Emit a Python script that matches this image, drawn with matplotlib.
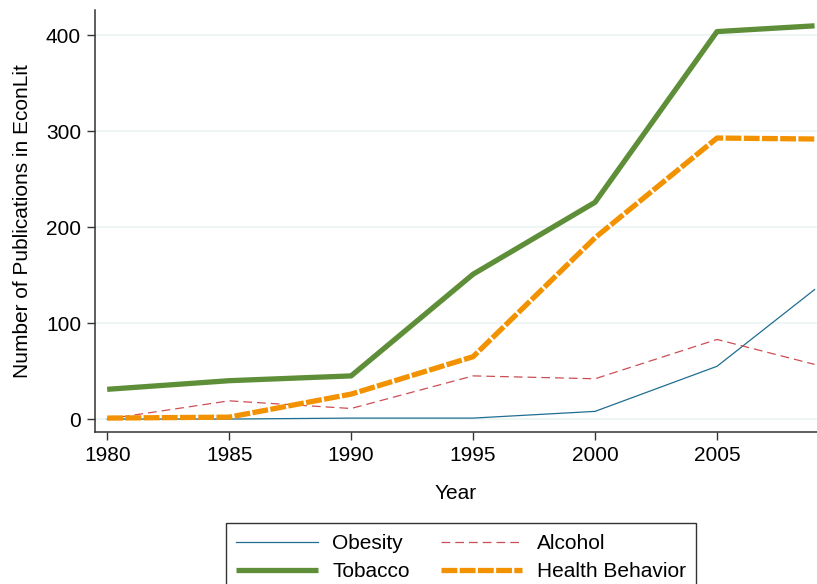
import numpy as np
import matplotlib
matplotlib.use("Agg")
import matplotlib.pyplot as plt

plt.rcParams['font.family'] = ['Liberation Sans', 'DejaVu Sans']

# publications per topic, EconLit
years = [1980, 1985, 1990, 1995, 2000, 2005, 2009]
obesity = [0, 0, 1, 1, 8, 55, 135]
alcohol = [0, 19, 11, 45, 42, 83, 57]
tobacco = [31, 40, 45, 151, 226, 404, 410]
health = [1, 2, 26, 65, 189, 293, 292]

fig = plt.figure(figsize=(8.17, 5.84), dpi=100)
ax = fig.add_axes([95/817, 152/584, 1 - 95/817, 422/584])

l_ob, = ax.plot(years, obesity, color='#1f6e91', lw=0.9, label='Obesity')
l_al, = ax.plot(years, alcohol, color='#cc4e55', lw=0.9, dashes=(7, 4), label='Alcohol')
l_tb, = ax.plot(years, tobacco, color='#5e8f38', lw=3.8, label='Tobacco', solid_capstyle='butt')
l_hb, = ax.plot(years, health, color='#f39200', lw=3.8, dashes=(3.0, 0.45),
                label='Health Behavior', dash_capstyle='butt')

ax.set_xlim(1979.5, 2009.1)
ax.set_ylim(-13.5, 426.5)
ax.set_xticks([1980, 1985, 1990, 1995, 2000, 2005])
ax.set_yticks([0, 100, 200, 300, 400])
ax.yaxis.grid(True, color='#eaf4f4', lw=1.2)
ax.set_axisbelow(True)
for s in ['top', 'right']:
    ax.spines[s].set_visible(False)
for s in ['left', 'bottom']:
    ax.spines[s].set_color('#333333')
    ax.spines[s].set_linewidth(1.1)
ax.tick_params(direction='out', length=6, width=1, color='#333333',
               labelsize=15, pad=4)
ax.set_xlabel('Year', fontsize=15, labelpad=14)
ax.set_ylabel('Number of Publications in EconLit', fontsize=15, labelpad=10)

# legend rows: Obesity/Alcohol, Tobacco/Health Behavior
leg = fig.legend([l_ob, l_tb, l_al, l_hb],
                 ['Obesity', 'Tobacco', 'Alcohol', 'Health Behavior'],
                 loc='upper center', bbox_to_anchor=(461/817, 1 - 513/584),
                 ncol=2, fontsize=15, frameon=True, fancybox=False,
                 handlelength=3.9, columnspacing=1.5, borderpad=0.5,
                 labelspacing=0.45, handletextpad=0.7)
leg.get_frame().set_edgecolor('black')
leg.get_frame().set_linewidth(1.0)

fig.savefig('out.png', dpi=100)
